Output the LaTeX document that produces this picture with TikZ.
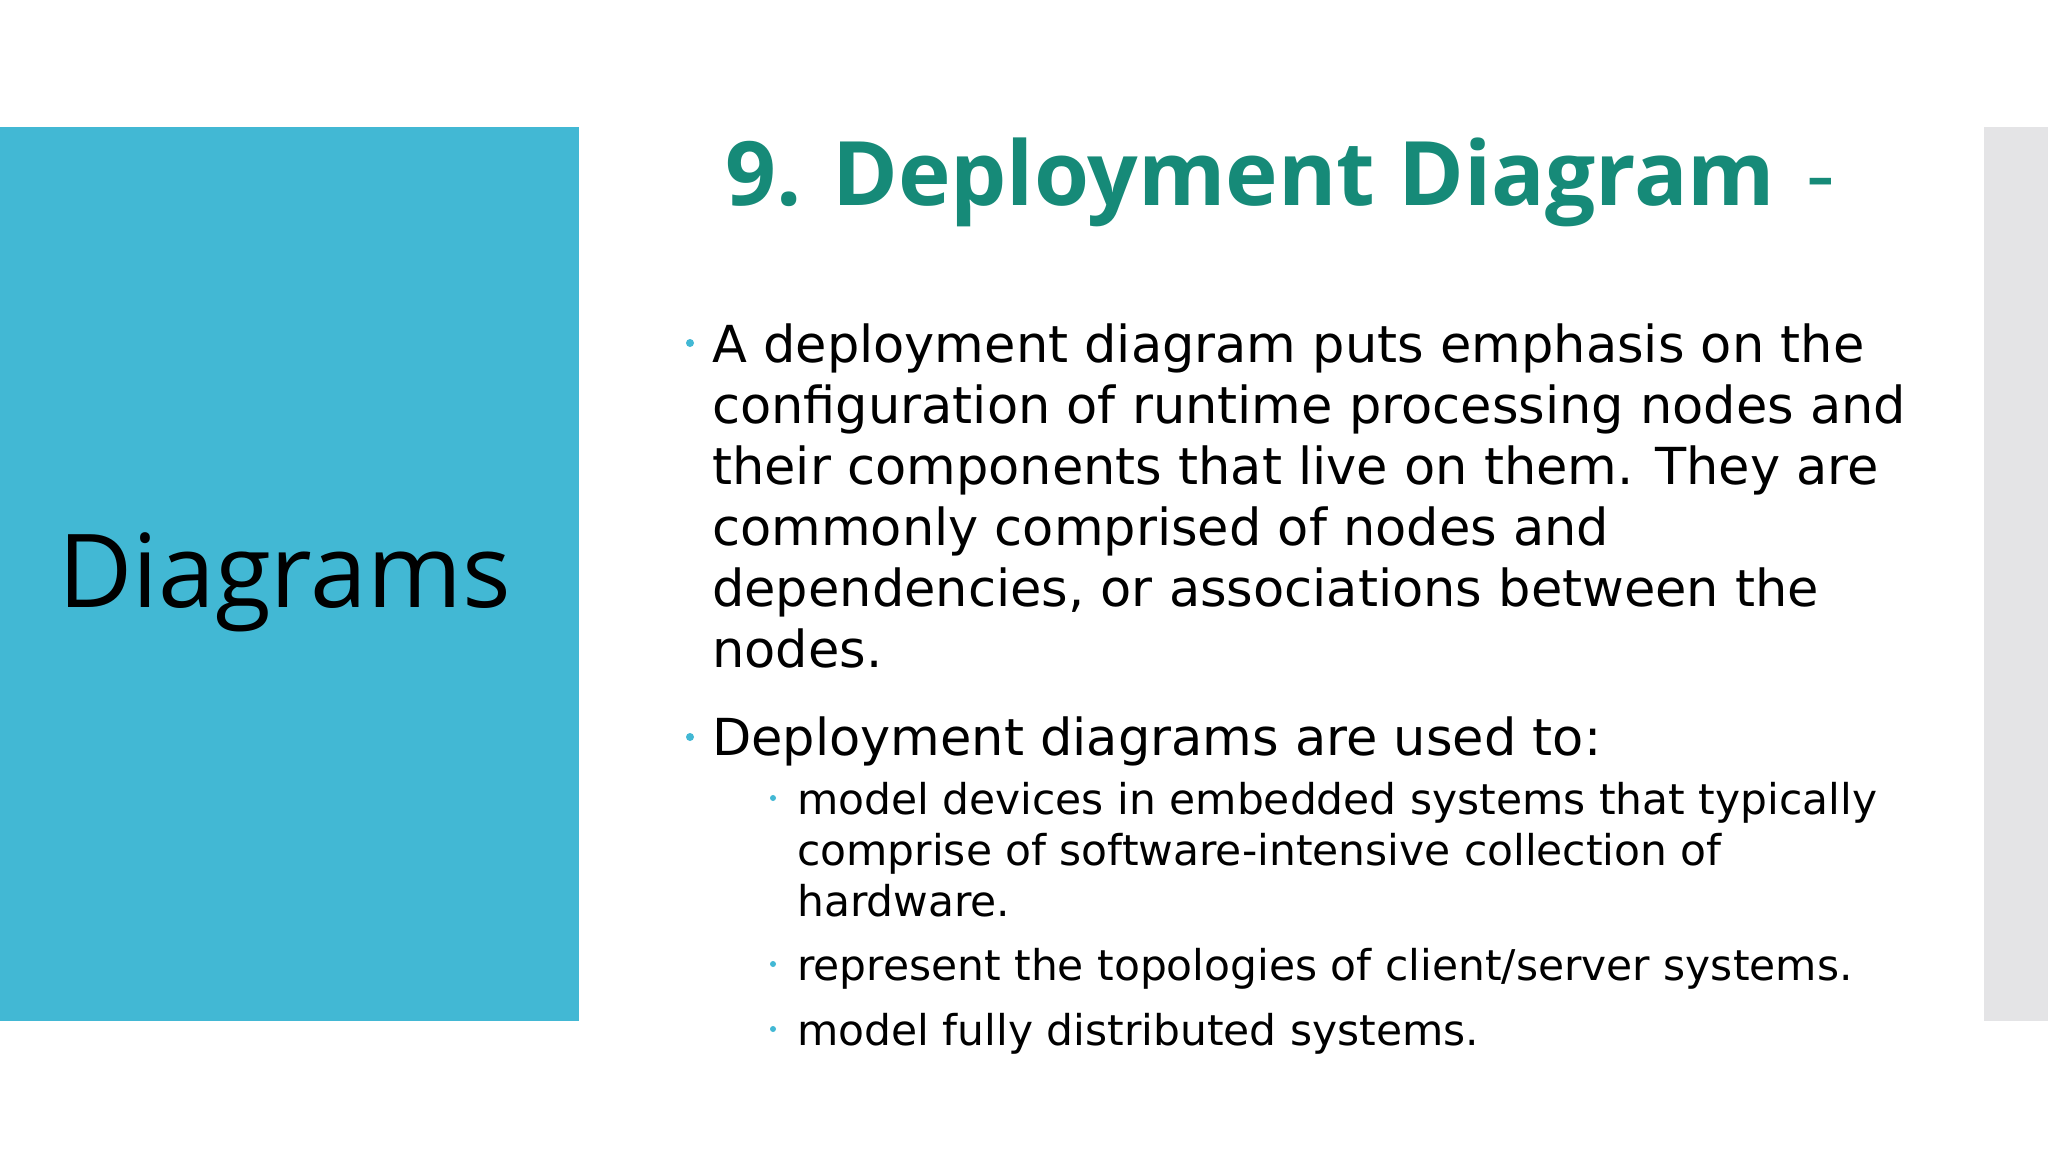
\documentclass[tikz,border=0pt]{standalone}
\usepackage{fontspec}
\setmainfont{DejaVu Sans}
\newfontfamily\titlefont{Open Sans}
\definecolor{slideblue}{HTML}{42B8D4}
\definecolor{teal}{HTML}{168A78}
\definecolor{sidegray}{HTML}{E4E4E6}
\tikzset{
 body/.style={anchor=base west,inner sep=0pt,font=\fontsize{51}{61}\selectfont},
 sub/.style={anchor=base west,inner sep=0pt,font=\fontsize{42.4}{51}\selectfont},
 dot/.style={circle,fill=slideblue,inner sep=0pt,minimum size=8pt},
}
\begin{document}
\begin{tikzpicture}[x=1pt,y=-1pt]
\useasboundingbox (0,0) rectangle (2048,1152);
\fill[white] (0,0) rectangle (2048,1152);
\fill[slideblue] (0,127) rectangle (579,1021);
\fill[sidegray] (1984,127) rectangle (2048,1021);
\node[anchor=base west,inner sep=0pt,font=\titlefont\fontsize{102}{120}\selectfont] (left) at (58,607) {Diagrams};
\node[anchor=base west,inner sep=0pt,text=teal,font=\titlefont\bfseries\fontsize{89}{110}\selectfont] (title) at (725,205) {9. Deployment Diagram};
\node[anchor=base west,inner sep=0pt,text=teal,font=\titlefont\fontsize{89}{110}\selectfont] (dash) at (1806,205) {-};
\node[dot] (d1) at (690,343) {};
\foreach \t [count=\i from 0] in {A deployment diagram puts emphasis on the,configuration of runtime processing nodes and,their components that live on them. They are,commonly comprised of nodes and,{dependencies, or associations between the},nodes.}
  \node[body] (b1l\i) at (712,362+61*\i) {\t};
\node[dot] (d2) at (690,737) {};
\node[body] (b2) at (712,755) {Deployment diagrams are used to:};
\node[dot,minimum size=6pt] (d3) at (773,798) {};
\foreach \t [count=\i from 0] in {model devices in embedded systems that typically,comprise of software-intensive collection of,hardware.}
  \node[sub] (s1l\i) at (797,814+51*\i) {\t};
\node[dot,minimum size=6pt] (d4) at (773,964) {};
\node[sub] (s2) at (797,980) {represent the topologies of client/server systems.};
\node[dot,minimum size=6pt] (d5) at (773,1029) {};
\node[sub] (s3) at (797,1045) {model fully distributed systems.};
\end{tikzpicture}
\end{document}
